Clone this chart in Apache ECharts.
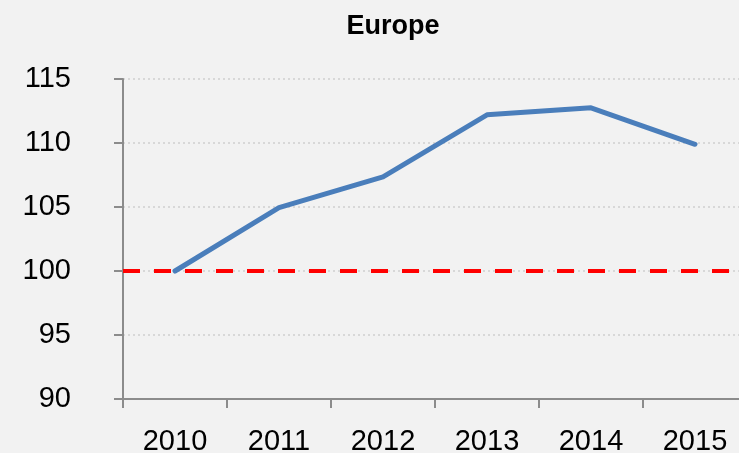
<!DOCTYPE html>
<html>
<head>
<meta charset="utf-8">
<title>Europe</title>
<script src="https://cdn.jsdelivr.net/npm/echarts@6/dist/echarts.min.js"></script>
<style>
  html, body { margin: 0; padding: 0; background: #f2f2f2; }
  #chart { width: 739px; height: 453px; }
</style>
</head>
<body>
<div id="chart"></div>
<script>
var years = ["2010", "2011", "2012", "2013", "2014", "2015"];
var europe = [100, 104.95, 107.35, 112.2, 112.75, 109.9];
var baseline = 100;
var yMin = 90;
var yMax = 115;
var yStep = 5;

var myChart = echarts.init(document.getElementById("chart"));
var labelFont = "'Liberation Sans', Arial, sans-serif";
var option = {
  backgroundColor: "#f2f2f2",
  animation: false,
  title: {
    text: "Europe",
    left: 388,
    top: 8,
    textAlign: "center",
    textStyle: {
      fontFamily: labelFont,
      fontWeight: "bold",
      fontSize: 27,
      color: "#000000",
    },
  },
  grid: {
    left: 123,
    right: -8,
    top: 79,
    bottom: 54,
    containLabel: false,
    outerBoundsMode: "none",
  },
  xAxis: {
    type: "category",
    data: years,
    boundaryGap: true,
    axisLine: { lineStyle: { color: "#8c8c8c", width: 2 } },
    axisTick: { show: true, length: 9, lineStyle: { color: "#8c8c8c", width: 2 } },
    axisLabel: {
      margin: 28,
      fontFamily: labelFont,
      fontSize: 29,
      color: "#000000",
    },
    splitLine: { show: false },
  },
  yAxis: {
    type: "value",
    min: yMin,
    max: yMax,
    interval: yStep,
    axisLine: { show: true, lineStyle: { color: "#8c8c8c", width: 2 } },
    axisTick: { show: true, length: 9, lineStyle: { color: "#8c8c8c", width: 2 } },
    axisLabel: {
      margin: 52,
      fontFamily: labelFont,
      fontSize: 29,
      color: "#000000",
    },
    splitLine: {
      show: true,
      lineStyle: { color: "#cfcfcf", width: 1.5, type: [2, 3] },
    },
  },
  series: [
    {
      name: "Europe",
      type: "line",
      data: europe,
      symbol: "none",
      lineStyle: { color: "#4a7ebb", width: 5, cap: "round", join: "round" },
      markLine: {
        silent: true,
        symbol: "none",
        label: { show: false },
        lineStyle: { color: "#ff0000", width: 4, type: [17, 14], cap: "butt" },
        data: [{ yAxis: baseline }],
      },
      z: 3,
    },
  ],
};
myChart.setOption(option);
</script>
</body>
</html>
